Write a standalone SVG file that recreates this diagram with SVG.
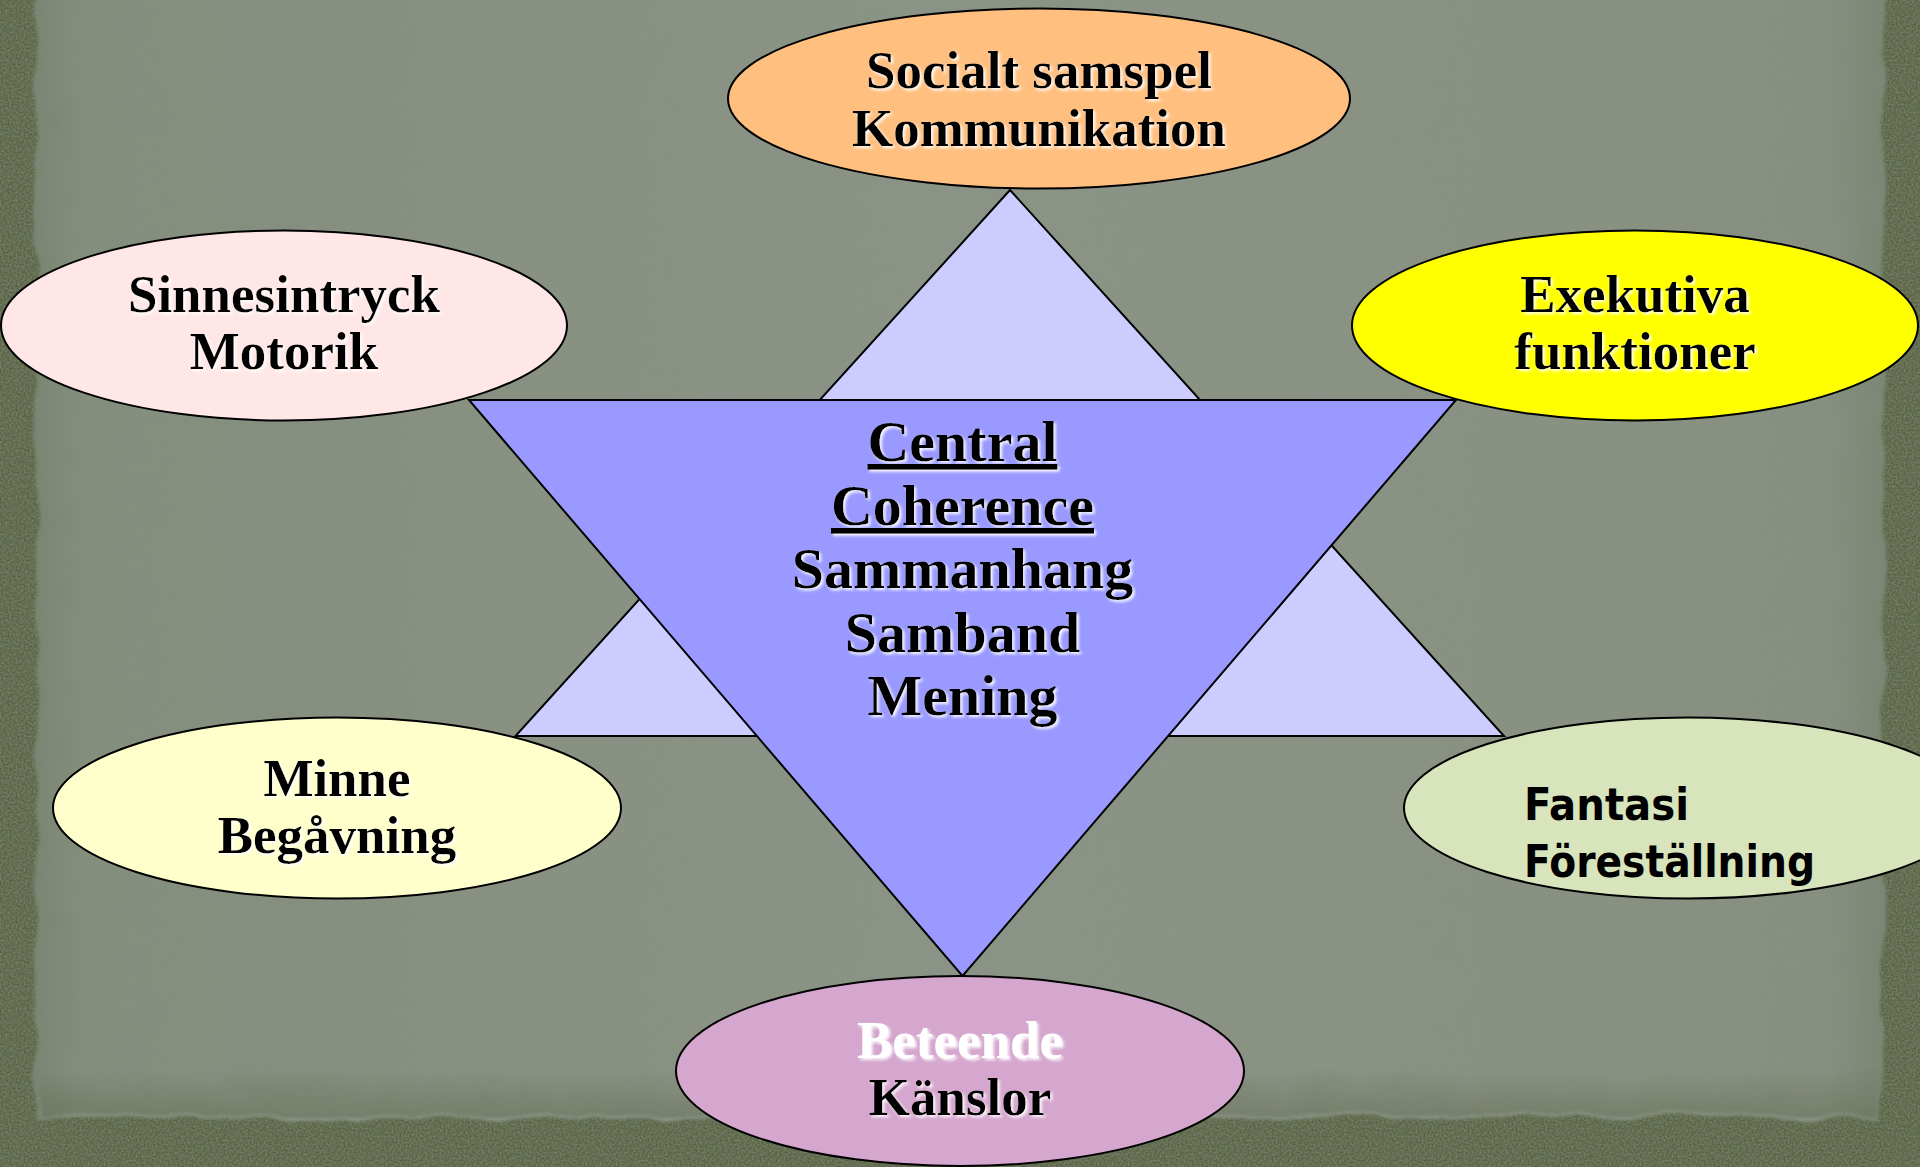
<svg xmlns="http://www.w3.org/2000/svg" width="1920" height="1167" viewBox="0 0 1920 1167">
  <defs>
    <filter id="rough" x="-5%" y="-5%" width="110%" height="110%">
      <feTurbulence type="fractalNoise" baseFrequency="0.02" numOctaves="2" seed="7" result="n"/>
      <feDisplacementMap in="SourceGraphic" in2="n" scale="16" xChannelSelector="R" yChannelSelector="G" result="d"/>
      <feGaussianBlur in="d" stdDeviation="1.5"/>
    </filter>
    <filter id="grain" x="0" y="0" width="100%" height="100%">
      <feTurbulence type="fractalNoise" baseFrequency="0.5" numOctaves="2" seed="3" result="t"/>
      <feColorMatrix in="t" type="matrix" values="0 0 0 0 0.22  0 0 0 0 0.26  0 0 0 0 0.18  0 0 0 -1.4 0.95" result="g"/>
      <feComposite in="g" in2="SourceGraphic" operator="in" result="gc"/>
      <feMerge><feMergeNode in="SourceGraphic"/><feMergeNode in="gc"/></feMerge>
    </filter>
    <filter id="glow" x="-10%" y="-20%" width="120%" height="140%">
      <feGaussianBlur in="SourceAlpha" stdDeviation="1.6" result="b"/>
      <feOffset in="b" dx="2" dy="2" result="o"/>
      <feFlood flood-color="#ffffff" flood-opacity="0.95"/>
      <feComposite in2="o" operator="in" result="s"/>
      <feMerge><feMergeNode in="s"/><feMergeNode in="SourceGraphic"/></feMerge>
    </filter>
    <linearGradient id="paperShade" x1="0" y1="0" x2="1" y2="0">
      <stop offset="0" stop-color="#7a8572"/>
      <stop offset="0.025" stop-color="#848e7d"/>
      <stop offset="0.5" stop-color="#8b9386"/>
      <stop offset="0.97" stop-color="#879080"/>
      <stop offset="1" stop-color="#7b8674"/>
    </linearGradient>
    <linearGradient id="paperBottom" x1="0" y1="0" x2="0" y2="1">
      <stop offset="0" stop-color="#5f6a4c" stop-opacity="0"/>
      <stop offset="1" stop-color="#5f6a4c" stop-opacity="0.45"/>
    </linearGradient>
    <style>
      .shape { stroke: #000; stroke-width: 2; }
      .lbl { font-family: "Liberation Serif", "Times New Roman", serif; font-weight: bold; font-size: 53px; text-anchor: middle; fill: #000; filter: url(#glow); }
      .center { font-family: "Liberation Serif", "Times New Roman", serif; font-weight: bold; font-size: 58px; text-anchor: middle; fill: #000; filter: url(#glow); }
      .comic { font-family: "DejaVu Sans", "Liberation Sans", sans-serif; font-weight: bold; font-size: 44px; fill: #000; }
    </style>
  </defs>

  <g id="background">
    <rect x="0" y="0" width="1920" height="1167" fill="#5a6545" filter="url(#grain)"/>
    <rect x="36" y="-40" width="1847" height="1158" fill="url(#paperShade)" filter="url(#rough)"/>
    <rect x="40" y="1070" width="1840" height="45" fill="url(#paperBottom)" filter="url(#rough)"/>
  </g>

  <g id="triangles">
    <polygon id="up-triangle" class="shape" points="1010,190 515.5,736 1504,736" fill="#CCCCFF"/>
    <polygon id="down-triangle" class="shape" points="469,400 1456,400 962.5,976" fill="#9999FF"/>
  </g>

  <g id="connectors"></g>

  <g id="node-center">
    <text class="center" x="962.5" y="461" text-decoration="underline">Central</text>
    <text class="center" x="962.5" y="525" text-decoration="underline">Coherence</text>
    <text class="center" x="962.5" y="588">Sammanhang</text>
    <text class="center" x="962.5" y="652">Samband</text>
    <text class="center" x="962.5" y="715">Mening</text>
  </g>

  <g id="node-socialt">
    <ellipse class="shape" cx="1039" cy="98.5" rx="311" ry="90" fill="#FFBF7F"/>
    <text class="lbl" x="1039" y="88">Socialt samspel</text>
    <text class="lbl" x="1039" y="146">Kommunikation</text>
  </g>

  <g id="node-sinnesintryck">
    <ellipse class="shape" cx="284" cy="325.5" rx="283" ry="95" fill="#FFE7E7"/>
    <text class="lbl" x="284" y="312">Sinnesintryck</text>
    <text class="lbl" x="284" y="369">Motorik</text>
  </g>

  <g id="node-exekutiva">
    <ellipse class="shape" cx="1635" cy="325.5" rx="283" ry="95" fill="#FFFF00"/>
    <text class="lbl" x="1635" y="312">Exekutiva</text>
    <text class="lbl" x="1635" y="369">funktioner</text>
  </g>

  <g id="node-minne">
    <ellipse class="shape" cx="337" cy="808" rx="284" ry="90.5" fill="#FFFFCC"/>
    <text class="lbl" x="337" y="796">Minne</text>
    <text class="lbl" x="337" y="853">Begåvning</text>
  </g>

  <g id="node-fantasi">
    <ellipse class="shape" cx="1688" cy="808" rx="284" ry="90.5" fill="#D7E4BC"/>
    <text class="comic" x="1524" y="820" textLength="165" lengthAdjust="spacingAndGlyphs">Fantasi</text>
    <text class="comic" x="1524" y="877" textLength="291" lengthAdjust="spacingAndGlyphs">Föreställning</text>
  </g>

  <g id="node-beteende">
    <ellipse class="shape" cx="960" cy="1071" rx="284" ry="95" fill="#D5A6CE"/>
    <text class="lbl" x="960" y="1058" style="fill:#ffffff">Beteende</text>
    <text class="lbl" x="960" y="1115">Känslor</text>
  </g>
</svg>
